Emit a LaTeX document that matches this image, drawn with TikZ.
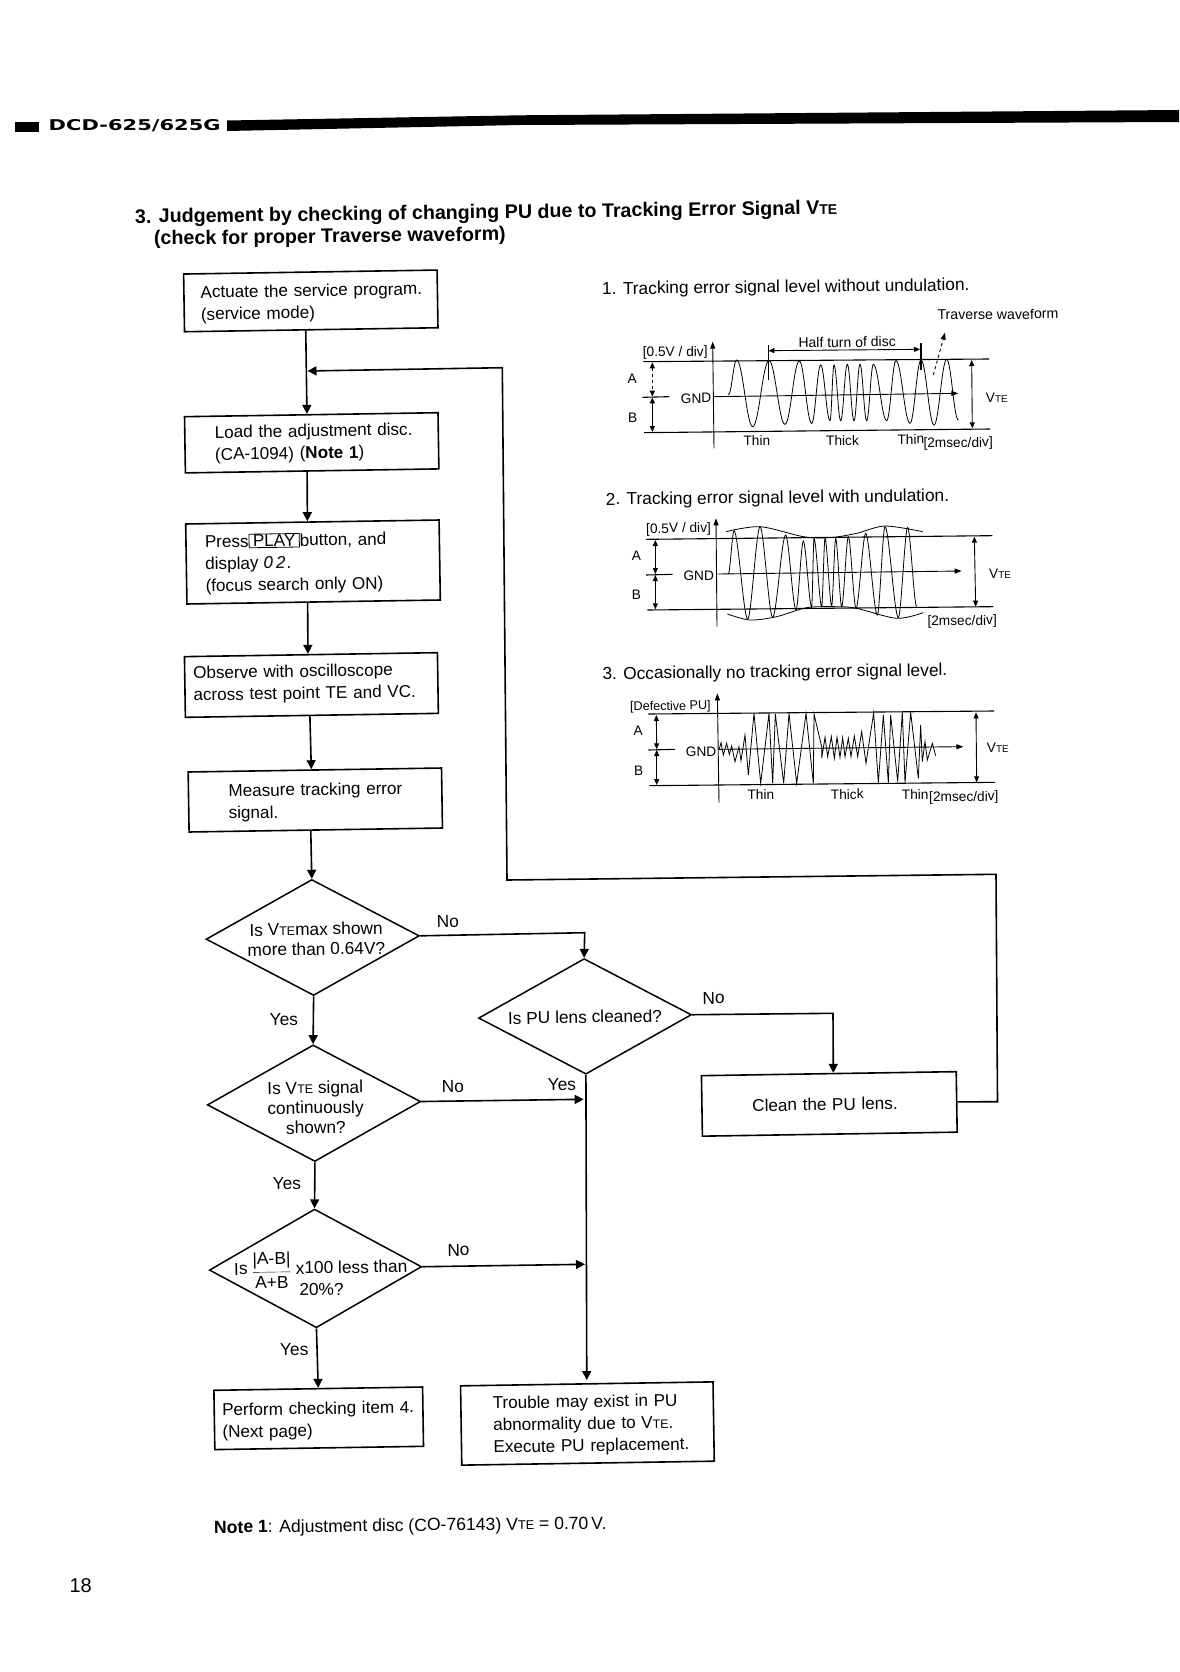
\documentclass[tikz,border=0pt]{standalone}
\usepackage{graphicx}
\usepackage{fontspec}
\setmainfont{Liberation Sans}
\newfontfamily\hfont{DejaVu Sans}
\usetikzlibrary{shapes.geometric,arrows.meta}
\newcommand\VTE{V\scalebox{.72}{TE}}
\newcommand\ltxt[3]{\hspace*{#1pt}\smash{\raisebox{\dimexpr-#2pt-4.3pt\relax}{\begin{tabular}[c]{@{}l@{}}#3\end{tabular}}}}
\newcommand\dtxt[3]{\makebox[0pt]{\hspace*{#1pt}\smash{\raisebox{-#2pt}{\begin{tabular}[c]{@{}c@{}}#3\end{tabular}}}}}
\newcommand\wave[4]{\draw[wav] (#2,#3) foreach \x/\y [remember=\x as \lx (initially #2),remember=\y as \ly (initially #3)] in {#4} { .. controls ({\lx+#1*(\x-\lx)},\ly) and ({\x-#1*(\x-\lx)},\y) .. (\x,\y) };}
\tikzset{
 body/.style={font=\fontsize{17.3}{22}\selectfont},
 boxfont/.style={font=\fontsize{17.1}{22}\selectfont},
 flowbox/.style n args={2}{draw=black,line width=1.6pt,rectangle,minimum width=#1pt,minimum height=#2pt,text width={#1pt-2pt},inner xsep=1pt,inner ysep=0pt,rotate=.9,align=left,boxfont},
 dia/.style n args={2}{draw=black,line width=1.5pt,diamond,minimum width=#1pt,minimum height=#2pt,shape aspect=1.83,inner sep=0pt,rotate=.9,font=\fontsize{17.3}{20}\selectfont},
 flow/.style={line width=1.6pt,-{Triangle[length=9pt,width=9pt]}},
 plain/.style={line width=1.6pt},
 lab/.style={anchor=base west,inner sep=0pt,rotate=.9,body},
 ptitle/.style={anchor=base west,inner sep=0pt,rotate=.6,font=\fontsize{17.3}{22}\selectfont},
 sm/.style={anchor=base west,inner sep=0pt,rotate=.5,yshift=-1.5pt,font=\fontsize{13.7}{16}\selectfont},
 wav/.style={line width=.8pt},
 hl/.style={line width=1.1pt},
 ax/.style={line width=.9pt,-{Triangle[length=7pt,width=5pt]}},
 dim/.style={line width=.9pt,{Triangle[length=6pt,width=5pt]}-{Triangle[length=6pt,width=5pt]}},
 dimd/.style={dim,dashed},
}
\begin{document}
\begin{tikzpicture}[x=1pt,y=-1pt]
\useasboundingbox (0,0) rectangle (1179,1672);
% header
\fill[black] (227,120.5) -- (520,115.3) -- (1179,110) -- (1179,122) -- (520,125) -- (227,131) -- cycle;
\node[fill=black,minimum width=24pt,minimum height=10pt,inner sep=0pt] (hsq) at (27,127) {};
\node[anchor=base west,inner sep=0pt,rotate=.3] (head) at (48.5,131) {\resizebox{172pt}{11pt}{\hfont\bfseries DCD-625/625G}};
% title
\node[anchor=base west,inner sep=0pt,rotate=.74,font=\fontsize{19.65}{24}\selectfont\bfseries] (t1) at (135,223.3) {3. Judgement by checking of changing PU due to Tracking Error Signal \VTE};
\node[anchor=base west,inner sep=0pt,rotate=.74,font=\fontsize{19.65}{24}\selectfont\bfseries] (t2) at (154,245) {(check for proper Traverse waveform)};
% boxes
\node[flowbox={253.5}{57.7}] (b1) at (310.8,300.9) {\ltxt{15.7}{2.1}{Actuate the service program.\\(service mode)}};
\node[flowbox={253.5}{56.2}] (b2) at (311.7,442.8) {\ltxt{29}{0.5}{Load the adjustment disc.\\(CA-1094) (\textbf{Note 1})}};
\node[flowbox={253.4}{80}] (b3) at (313,562) {\ltxt{18}{1.5}{Press\setlength\fboxsep{.5pt}\setlength\fboxrule{.8pt}\fbox{\hspace{3pt}PLAY\hspace{3pt}}button, and\\display\hspace{5pt}{\itshape 0\hspace{3pt}2}\hspace{1pt}.\\(focus search only ON)}};
\node[flowbox={253}{60.7}] (b4) at (311.4,685) {\ltxt{7.5}{-1.5}{Observe with oscilloscope\\across test point TE and VC.}};
\node[flowbox={253.4}{60}] (b5) at (315.3,800) {\ltxt{39}{2}{Measure tracking error\\signal.}};
\node[flowbox={208.7}{59.3}] (b6) at (318.7,1418.3) {\ltxt{7}{2.7}{Perform checking item 4.\\(Next page)}};
\node[flowbox={252.5}{79.3}] (b7) at (587.4,1423.5) {\ltxt{31}{1.5}{Trouble may exist in PU\\abnormality due to \VTE.\\Execute PU replacement.}};
\node[flowbox={254.8}{60.5}] (clean) at (829.3,1103.9) {\ltxt{49.4}{2}{Clean the PU lens.}};
% diamonds
\node[dia={213.3}{116}] (d1) at (312.7,937.5) {\dtxt{7}{8}{Is \VTE max shown\\more than 0.64V?}};
\node[dia={213}{115.6}] (d2) at (585,1016.4) {\dtxt{0}{7}{Is PU lens cleaned?}};
\node[dia={213.4}{116.6}] (d3) at (314,1103.2) {\dtxt{3}{10.8}{Is \VTE\ signal\\continuously\\shown?}};
\node[dia={212.4}{118.7}] (d4) at (315.5,1268.4) {};
\node[lab] (d4a) at (234,1275) {Is\hspace{4pt}\raisebox{-2pt}{$\displaystyle\frac{\hbox{|A-B|}}{\hbox{A+B}}$}\hspace{4pt}x100 less than};
\node[lab] (d4b) at (299.3,1295.7) {20\%?};
% labels
\node[lab] (ln1) at (436.7,927.3) {No};
\node[lab] (ln2) at (702.4,1004) {No};
\node[lab] (ln3) at (441.7,1092.3) {No};
\node[lab] (ln4) at (447.3,1256) {No};
\node[lab] (ly1) at (269.7,1025.5) {Yes};
\node[lab] (ly2) at (547.7,1090.7) {Yes};
\node[lab] (ly3) at (272.7,1189.3) {Yes};
\node[lab] (ly4) at (280,1355.7) {Yes};
\node[anchor=base west,inner sep=0pt,rotate=.63,font=\fontsize{17.6}{22}\selectfont] (note) at (214,1533.3) {\textbf{Note 1}: Adjustment disc (CO-76143) \VTE\ = 0.70\,V.};
\node[anchor=base west,inner sep=0pt,font=\fontsize{20}{24}\selectfont] (pg) at (69.3,1592.6) {18};
% connector points
\coordinate (fbtip) at (307.5,371);
\coordinate (c1) at (997.5,1101.7);
\coordinate (c2) at (996,874.3);
\coordinate (c3) at (507,880);
\coordinate (c4) at (502.3,367.7);
\coordinate (c5) at (584.7,932.7);
\coordinate (c6) at (833,1013.3);
\coordinate (j1) at (583.6,1099.3);
\coordinate (j2) at (585,1264.3);
% connectors
\draw[flow] ([xshift=-5.5pt]b1.south) -- ([xshift=-4.3pt]b2.north);
\draw[flow] ([xshift=-5pt]b2.south) -- ([xshift=-5pt]b3.north);
\draw[flow] ([xshift=-6pt]b3.south) -- ([xshift=-3pt]b4.north);
\draw[flow] ([xshift=-2pt]b4.south) -- ([xshift=-3.5pt]b5.north);
\draw[flow] ([xshift=-5pt]b5.south) -- (d1.north);
\draw[flow] (clean.east) -- (c1) -- (c2) -- (c3) -- (c4) -- (fbtip);
\draw[flow] (d1.east) -- (c5) -- (d2.north);
\draw[flow] (d2.east) -- (c6) -- ([xshift=4.5pt]clean.north);
\draw[flow] (d1.south) -- (d3.north);
\draw[flow] (d3.south) -- (d4.north);
\draw[flow] (d4.south) -- (b6.north);
\draw[flow] (d3.east) -- (j1);
\draw[flow] (d4.east) -- (j2);
\draw[flow,shorten >=3pt] (d2.south) -- (b7.north);
% ---------- panel 1
\node[ptitle] (p1t) at (602,294.5) {1. Tracking error signal level without undulation.};
\begin{scope}[shift={(590,260)},x=.33333pt,y=-.33333pt]
\draw[hl] (160,305) -- (1197,297);
\draw[hl] (162,518) -- (1200,507);
\draw[ax] (372,565) -- (368,245);
\draw[ax] (372,410) -- (1105,400);
\draw[hl] (157,412) -- (238,410);
\draw[dimd] (187,307) -- (187,410);
\draw[dim] (187,412) -- (187,516);
\draw[dim] (1145,300) -- (1147,505);
\draw[dim] (535,272) -- (990,268);
\draw[hl] (535,255) -- (535,360);
\draw[hl] (993,250) -- (993,330);
\draw[ax,dashed] (1030,345) -- (1065,218);
\node[sm] (a1) at (112,365) {A};
\node[sm] (b1l) at (114,482) {B};
\node[sm] (g1) at (272,425) {GND};
\node[sm] (s1) at (158,285) {[0.5V / div]};
\node[sm,font=\fontsize{14}{16}\selectfont] (h1) at (625,258) {Half turn of disc};
\node[sm,font=\fontsize{14.2}{16}\selectfont] (tw) at (1042,175) {Traverse waveform};
\node[sm] (v1) at (1187,422) {\VTE};
\node[sm] (th1) at (460,553) {Thin};
\node[sm] (tk1) at (708,553) {Thick};
\node[sm] (th2) at (922,548) {Thin};
\node[sm] (ms1) at (1000,558) {[2msec/div]};
\wave{.38}{415}{405}{440/300,488/500,537/302,585/493,628/303,665/490,692/315,720/482,732/315,752/482,772/313,792/482,810/313,830/482,850/313,890/482,918/302,960/490,993/300,1032/495,1070/298,1105/480}
\end{scope}
% ---------- panel 2
\node[ptitle] (p2t) at (605.7,505) {2. Tracking error signal level with undulation.};
\begin{scope}[shift={(590,470)},x=.33333pt,y=-.33333pt]
\draw[hl] (168,208) -- (1207,197);
\draw[hl] (172,420) -- (1210,410);
\draw[ax] (381,470) -- (378,145);
\draw[ax] (383,312) -- (1115,303);
\draw[hl] (168,315) -- (248,313);
\draw[dim] (196,210) -- (196,312);
\draw[dim] (196,315) -- (196,418);
\draw[dim] (1153,200) -- (1157,410);
\node[sm] (a2) at (125,267) {A};
\node[sm] (b2l) at (125,385) {B};
\node[sm] (g2) at (280,328) {GND};
\node[sm] (s2) at (168,185) {[0.5V / div]};
\node[sm] (v2) at (1197,322) {\VTE};
\node[sm] (ms2) at (1012,462) {[2msec/div]};
\draw[wav] plot[smooth] coordinates {(408,185) (510,170) (640,200) (720,203) (800,190) (885,168) (998,185)};
\draw[wav] plot[smooth] coordinates {(412,432) (480,450) (560,440) (650,413) (740,410) (800,415) (920,445) (1000,428)};
\wave{.3}{415}{312}{432/182,473/447,510/170,548/442,587/195,618/420,640/213,665/412,672/205,695/410,705/205,725/408,737/205,755/410,775/200,798/415,827/190,862/435,885/170,925/443,953/172,980/410}
\end{scope}
% ---------- panel 3
\node[ptitle] (p3t) at (602.3,679.5) {3. Occasionally no tracking error signal level.};
\begin{scope}[shift={(590,650)},x=.33333pt,y=-.33333pt]
\draw[hl] (175,192) -- (1212,183);
\draw[hl] (178,407) -- (1215,397);
\draw[ax] (387,458) -- (382,130);
\draw[ax] (387,298) -- (1120,290);
\draw[hl] (175,300) -- (255,298);
\draw[dim] (199,195) -- (200,298);
\draw[dim] (200,300) -- (200,405);
\draw[dim] (1158,187) -- (1160,397);
\node[sm] (a3) at (130,252) {A};
\node[sm] (b3l) at (132,372) {B};
\node[sm] (g3) at (287,315) {GND};
\node[sm,font=\fontsize{12.6}{16}\selectfont] (s3) at (120,177) {[Defective PU]};
\node[sm] (v3) at (1190,303) {\VTE};
\node[sm] (th3) at (472,445) {Thin};
\node[sm] (tk3) at (722,443) {Thick};
\node[sm] (th4) at (935,443) {Thin};
\node[sm] (ms3) at (1017,450) {[2msec/div]};
\draw[wav] plot coordinates {(387,300) (393,278) (400,315) (410,280) (418,313) (425,288) (435,335) (447,290) (453,332) (465,255) (475,375) (492,190) (512,400) (537,190) (548,400) (556,192) (581,400) (597,190) (620,400) (648,190) (670,400) (672,192) (695,290) (695,325) (705,262) (713,320) (724,260) (733,325) (741,262) (750,322) (758,263) (765,320) (775,265) (783,320) (793,258) (803,320) (815,245) (828,340) (851,188) (865,398) (880,195) (895,398) (902,195) (923,395) (937,187) (945,398) (962,187) (985,385) (992,225) (997,335) (1005,275) (1012,330) (1027,280) (1037,317)};
\end{scope}
\end{tikzpicture}
\end{document}
